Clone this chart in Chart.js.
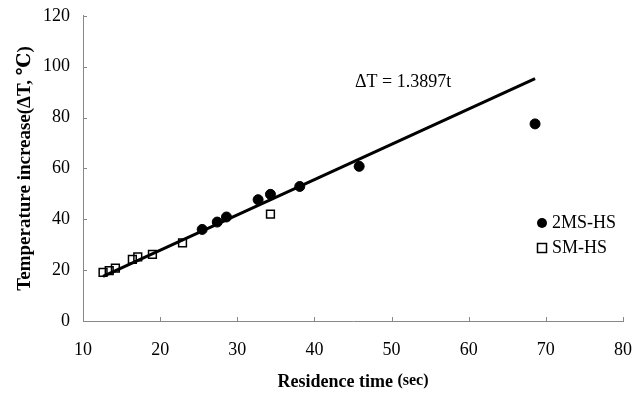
<!doctype html>
<html lang="en">
    <head>
        <meta charset="UTF-8"/>
        <title>Residence time</title>
        <script src="https://cdn.jsdelivr.net/npm/chart.js@4.4.1/dist/chart.umd.min.js"></script>
        <style>
         * { margin: 0; padding: 0; }
         body { background: #fff; }
         #wrap { width: 642px; height: 399px; }
        </style>
    </head>
    <body>
        <div id="wrap"><canvas id="chart"></canvas></div>
        <script>
         // 2MS-HS (filled circles)
         const msTime = [25.45, 27.4, 28.6, 32.7, 34.3, 38.1, 45.8, 68.6];
         const msTemp = [36.0, 38.9, 40.9, 47.7, 49.8, 52.9, 60.8, 77.5];
         // SM-HS (open squares)
         const smTime = [12.6, 13.4, 14.2, 16.4, 17.1, 19.0, 22.9, 34.3];
         const smTemp = [19.1, 19.8, 20.8, 24.2, 25.2, 26.2, 30.7, 42.0];
         // fitted line dT = 1.3897 t
         const slope = 1.3897;
         const fitTime = [12.6, 68.6];

         const xTicks = [10, 20, 30, 40, 50, 60, 70, 80];
         const yTicks = [0, 20, 40, 60, 80, 100, 120];

         const serif = "'Liberation Serif', 'DejaVu Serif', serif";

         const toPts = (xs, ys) => xs.map((x, i) => ({x: x, y: ys[i]}));

         // inward tick marks, x title, annotation and legend
         const extras = {
             id: 'extras',
             afterDraw(chart) {
                 const ctx = chart.ctx;
                 const xs = chart.scales.x, ys = chart.scales.y;
                 const a = chart.chartArea;
                 ctx.save();
                 ctx.strokeStyle = '#888';
                 ctx.lineWidth = 1;
                 ctx.beginPath();
                 xTicks.forEach(v => {
                     const px = Math.round(xs.getPixelForValue(v)) + 0.5;
                     ctx.moveTo(px, a.bottom);
                     ctx.lineTo(px, a.bottom - 4);
                 });
                 yTicks.forEach(v => {
                     const py = Math.round(ys.getPixelForValue(v)) + 0.5;
                     ctx.moveTo(a.left, py);
                     ctx.lineTo(a.left + 4, py);
                 });
                 ctx.stroke();

                 ctx.fillStyle = '#000';
                 ctx.textBaseline = 'middle';
                 ctx.textAlign = 'left';

                 // x axis title, "(sec)" in a smaller size
                 const big = 'bold 18px ' + serif, small = 'bold 16px ' + serif;
                 ctx.font = big;
                 const w1 = ctx.measureText('Residence time ').width;
                 ctx.font = small;
                 const w2 = ctx.measureText('(sec)').width;
                 const x0 = (a.left + a.right) / 2 - (w1 + w2) / 2;
                 ctx.font = big;
                 ctx.fillText('Residence time ', x0, 382);
                 ctx.font = small;
                 ctx.fillText('(sec)', x0 + w1, 381);

                 ctx.font = '18px ' + serif;
                 ctx.fillText('\u0394T = 1.3897t', 355, 82);

                 // legend
                 ctx.beginPath();
                 ctx.arc(542, 223, 5, 0, Math.PI * 2);
                 ctx.fill();
                 ctx.lineWidth = 1.5;
                 ctx.strokeStyle = '#000';
                 ctx.strokeRect(537.5, 243.5, 9, 9);
                 ctx.fillText('2MS-HS', 552, 223);
                 ctx.fillText('SM-HS', 552, 248);
                 ctx.restore();
             }
         };

         new Chart(document.getElementById('chart'), {
             type: 'scatter',
             data: {
                 datasets: [{
                     label: 'fit',
                     type: 'line',
                     data: fitTime.map(t => ({x: t, y: slope * t})),
                     borderColor: '#000',
                     borderWidth: 3,
                     pointRadius: 0,
                     order: 3
                 }, {
                     label: '2MS-HS',
                     data: toPts(msTime, msTemp),
                     pointStyle: 'circle',
                     pointRadius: 5,
                     backgroundColor: '#000',
                     borderColor: '#000',
                     order: 1
                 }, {
                     label: 'SM-HS',
                     data: toPts(smTime, smTemp),
                     pointStyle: 'rect',
                     pointRadius: 5.5,
                     backgroundColor: 'rgba(0,0,0,0)',
                     borderColor: '#000',
                     borderWidth: 1.5,
                     order: 2
                 }]
             },
             options: {
                 responsive: true,
                 maintainAspectRatio: false,
                 animation: false,
                 layout: { padding: { top: 10, right: 12, left: 0, bottom: 0 } },
                 plugins: {
                     legend: { display: false },
                     tooltip: { enabled: false }
                 },
                 scales: {
                     x: {
                         type: 'linear',
                         min: 10, max: 80,
                         afterBuildTicks: s => { s.ticks = xTicks.map(v => ({value: v})); },
                         afterFit: s => { s.height = 78; },
                         grid: { display: false },
                         border: { display: true, color: '#888', width: 1, dash: [2, 1] },
                         ticks: { color: '#000', padding: 10, font: { family: serif, size: 18 } }
                     },
                     y: {
                         type: 'linear',
                         min: 0, max: 120,
                         afterBuildTicks: s => { s.ticks = yTicks.map(v => ({value: v})); },
                         afterFit: s => { s.width = 83; },
                         grid: { display: false },
                         border: { display: true, color: '#888', width: 1, dash: [2, 1] },
                         ticks: { color: '#000', padding: 5, font: { family: serif, size: 18 } },
                         title: {
                             display: true,
                             text: 'Temperature increase(\u0394T, \u2103)',
                             color: '#000',
                             padding: { top: 14, bottom: 0 },
                             font: { family: serif, size: 19, weight: 'bold' }
                         }
                     }
                 }
             },
             plugins: [extras]
         });
        </script>
    </body>
</html>
